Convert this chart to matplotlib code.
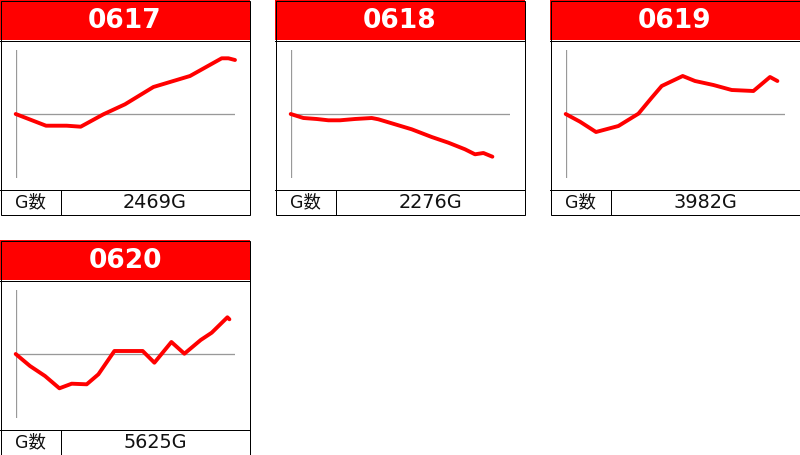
import matplotlib
matplotlib.use("Agg")
import matplotlib.pyplot as plt
from matplotlib.patches import Rectangle

# data (x: progress, y: difference, baseline = 0)
dates = ["0617", "0618", "0619", "0620"]
games = ["2469G", "2276G", "3982G", "5625G"]

x_0617 = [0, 30.3, 51, 65, 87.7, 109.3, 137.7, 154.3, 174.3, 206, 212.7, 219.3]
y_0617 = [0, -11.7, -11.7, -12.7, -0.3, 9.7, 27, 32, 38, 55.7, 55.7, 54]

x_0618 = [0, 12.7, 26, 37.7, 49.3, 64.3, 81, 87.7, 107.7, 121, 141, 157.7, 174.3, 184.3, 192.7, 201.7]
y_0618 = [0, -4, -5, -6.3, -6.3, -5, -4, -5.3, -11.3, -15.3, -23, -28.7, -35.3, -40.3, -39, -42.7]

x_0619 = [0, 14.3, 30.3, 52.7, 72.7, 86, 96, 117, 129.3, 147.7, 166, 187.7, 204.3, 211.7]
y_0619 = [0, -7.7, -18, -12, 0.3, 16.3, 28, 38, 33, 29, 24, 23, 37, 33]

x_0620 = [0, 14.3, 29.3, 43.7, 56, 71, 82.7, 98.7, 127, 138.7, 155.7, 168.7, 185, 196, 211.7, 213.7]
y_0620 = [0, -12, -22, -34.3, -29.7, -30.3, -20.3, 3, 3, -8.7, 12, 0.3, 14, 21.3, 36.7, 34.7]

xs = [x_0617, x_0618, x_0619, x_0620]
ys = [y_0617, y_0618, y_0619, y_0620]

W, H = 800, 455
fig = plt.figure(figsize=(W / 100, H / 100), dpi=100)
bg = fig.add_axes([0, 0, 1, 1])
bg.set_xlim(0, W)
bg.set_ylim(H, 0)
bg.axis("off")

PX = 0.72  # one pixel in points
origins = [(0, 0), (275, 0), (550, 0), (0, 240)]


def fig_rect(x, y, w, h):
    return [x / W, 1 - (y + h) / H, w / W, h / H]


for i, (x0, y0) in enumerate(origins):
    # header
    bg.add_patch(Rectangle((x0, y0), 249.5, 40, facecolor="#ff0000", edgecolor="none"))
    bg.text(x0 + 125, y0 + 21, dates[i], color="white", fontsize=19, fontweight="bold",
            family="DejaVu Sans", ha="center", va="center")
    # outer box and separators
    bg.add_patch(Rectangle((x0 + 0.5, y0 + 0.5), 249, 214, facecolor="none",
                           edgecolor="black", linewidth=PX))
    bg.plot([x0, x0 + 250], [y0 + 40.5, y0 + 40.5], color="black", lw=PX)
    bg.plot([x0, x0 + 250], [y0 + 189.5, y0 + 189.5], color="black", lw=PX)
    bg.plot([x0 + 60.5, x0 + 60.5], [y0 + 189.5, y0 + 214.5], color="black", lw=PX)
    # footer
    bg.text(x0 + 30.5, y0 + 202, "G数", fontsize=12.5, family=["DejaVu Sans", "Noto Sans CJK JP"],
            ha="center", va="center", color="#111111")
    bg.text(x0 + 155, y0 + 202, games[i], fontsize=13.9, family="DejaVu Sans",
            ha="center", va="center", color="#111111")

    # chart
    ax = fig.add_axes(fig_rect(x0 + 15.7, y0 + 50, 219.3, 128))
    ax.set_xlim(0, 219.3)
    ax.set_ylim(-64, 64)
    ax.axis("off")
    ax.axvline(0, color="#999999", lw=1.3 * PX)
    ax.axhline(0, color="#999999", lw=1.3 * PX)
    ax.plot(xs[i], ys[i], color="#ff0000", lw=2.8, solid_capstyle="round",
            solid_joinstyle="round", clip_on=False)

fig.savefig("out.png", dpi=100)
